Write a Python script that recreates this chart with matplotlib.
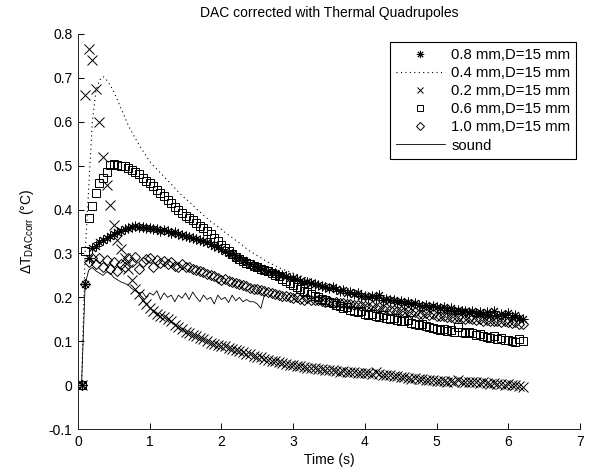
import numpy as np
import matplotlib
matplotlib.use("Agg")
import matplotlib.pyplot as plt

params = {
    "font.family": ["Liberation Sans", "DejaVu Sans"],
    "font.size": 10,
    "mathtext.fontset": "custom",
    "mathtext.rm": "Liberation Sans",
    "mathtext.it": "Liberation Sans:italic",
    "xtick.direction": "in",
    "ytick.direction": "in",
    "axes.linewidth": 0.7,
    "axes.edgecolor": "#222222",
}
plt.rcParams.update(params)

# sampling time (s), one sample every 0.05 s
time = np.round(np.arange(1, 125) * 0.05, 2)

d08 = [0, 0.23, 0.29, 0.312, 0.318, 0.325, 0.33, 0.335, 0.34, 0.345,
       0.348, 0.352, 0.355, 0.358, 0.36, 0.362, 0.36, 0.361, 0.358, 0.358,
       0.356, 0.355, 0.352, 0.353, 0.35, 0.347, 0.348, 0.345, 0.342, 0.34,
       0.338, 0.336, 0.334, 0.33, 0.328, 0.325, 0.322, 0.318, 0.314, 0.31,
       0.306, 0.302, 0.298, 0.293, 0.29, 0.285, 0.28, 0.276, 0.272, 0.27,
       0.266, 0.263, 0.26, 0.258, 0.255, 0.252, 0.25, 0.248, 0.245, 0.243,
       0.242, 0.238, 0.236, 0.235, 0.232, 0.23, 0.228, 0.225, 0.224, 0.222,
       0.224, 0.218, 0.215, 0.216, 0.21, 0.212, 0.207, 0.209, 0.204, 0.203,
       0.2, 0.202, 0.198, 0.205, 0.195, 0.197, 0.193, 0.195, 0.19, 0.192,
       0.188, 0.19, 0.185, 0.187, 0.183, 0.18, 0.182, 0.178, 0.18, 0.177,
       0.175, 0.178, 0.172, 0.176, 0.17, 0.172, 0.168, 0.17, 0.166, 0.168,
       0.165, 0.167, 0.163, 0.166, 0.16, 0.168, 0.158, 0.162, 0.16, 0.165,
       0.155, 0.16, 0.152, 0.15]

d04 = [0, 0.3, 0.45, 0.6, 0.67, 0.695, 0.703, 0.695, 0.683, 0.668,
       0.65, 0.63, 0.612, 0.592, 0.577, 0.562, 0.548, 0.535, 0.522, 0.51,
       0.5, 0.492, 0.483, 0.475, 0.466, 0.458, 0.449, 0.44, 0.432, 0.425,
       0.418, 0.41, 0.402, 0.395, 0.387, 0.38, 0.373, 0.367, 0.361, 0.355,
       0.348, 0.342, 0.336, 0.33, 0.324, 0.318, 0.311, 0.305, 0.3, 0.295,
       0.29, 0.285, 0.28, 0.276, 0.272, 0.268, 0.264, 0.261, 0.258, 0.255,
       0.252, 0.249, 0.246, 0.243, 0.241, 0.238, 0.236, 0.234, 0.232, 0.23,
       0.228, 0.226, 0.224, 0.222, 0.22, 0.218, 0.216, 0.214, 0.212, 0.21,
       0.208, 0.207, 0.205, 0.204, 0.202, 0.201, 0.199, 0.198, 0.196, 0.195,
       0.193, 0.192, 0.19, 0.189, 0.187, 0.186, 0.184, 0.183, 0.181, 0.18,
       0.179, 0.178, 0.177, 0.176, 0.175, 0.174, 0.173, 0.172, 0.171, 0.17,
       0.169, 0.168, 0.167, 0.166, 0.165, 0.164, 0.163, 0.162, 0.161, 0.16,
       0.159, 0.158, 0.156, 0.155]

d02 = [0, 0.66, 0.765, 0.74, 0.675, 0.6, 0.52, 0.455, 0.41, 0.365,
       0.33, 0.31, 0.29, 0.265, 0.24, 0.22, 0.208, 0.195, 0.185, 0.175,
       0.17, 0.162, 0.158, 0.155, 0.15, 0.145, 0.138, 0.132, 0.127, 0.122,
       0.118, 0.115, 0.112, 0.108, 0.104, 0.1, 0.097, 0.094, 0.092, 0.09,
       0.088, 0.085, 0.083, 0.08, 0.078, 0.075, 0.072, 0.07, 0.067, 0.065,
       0.063, 0.06, 0.058, 0.056, 0.054, 0.052, 0.05, 0.048, 0.046, 0.045,
       0.044, 0.043, 0.042, 0.04, 0.04, 0.038, 0.037, 0.036, 0.035, 0.035,
       0.034, 0.033, 0.031, 0.032, 0.03, 0.03, 0.029, 0.028, 0.028, 0.028,
       0.027, 0.026, 0.03, 0.025, 0.024, 0.022, 0.023, 0.02, 0.02, 0.019,
       0.018, 0.017, 0.015, 0.016, 0.014, 0.013, 0.012, 0.011, 0.012, 0.01,
       0.01, 0.009, 0.008, 0.01, 0.007, 0.012, 0.008, 0.007, 0.008, 0.006,
       0.006, 0.005, 0.006, 0.004, 0.003, 0.004, 0.002, 0.003, 0.001, 0.002,
       0.001, 0.0, -0.002, -0.005]

d06 = [0, 0.306, 0.38, 0.408, 0.438, 0.46, 0.473, 0.485, 0.502, 0.503,
       0.502, 0.5, 0.5, 0.495, 0.49, 0.485, 0.48, 0.473, 0.466, 0.46,
       0.453, 0.445, 0.438, 0.43, 0.422, 0.414, 0.406, 0.398, 0.392, 0.386,
       0.38, 0.376, 0.37, 0.363, 0.358, 0.352, 0.344, 0.336, 0.328, 0.32,
       0.312, 0.305, 0.298, 0.292, 0.288, 0.283, 0.279, 0.275, 0.272, 0.268,
       0.265, 0.262, 0.26, 0.255, 0.252, 0.248, 0.242, 0.238, 0.232, 0.228,
       0.224, 0.22, 0.215, 0.212, 0.208, 0.204, 0.2, 0.196, 0.193, 0.19,
       0.186, 0.183, 0.18, 0.176, 0.178, 0.172, 0.17, 0.166, 0.168, 0.163,
       0.16, 0.162, 0.158, 0.155, 0.16, 0.153, 0.15, 0.154, 0.148, 0.147,
       0.145, 0.148, 0.142, 0.14, 0.138, 0.14, 0.135, 0.133, 0.13, 0.128,
       0.125, 0.128, 0.124, 0.126, 0.12, 0.132, 0.122, 0.118, 0.12, 0.118,
       0.115, 0.117, 0.112, 0.11, 0.108, 0.112, 0.105, 0.108, 0.102, 0.103,
       0.1, 0.098, 0.104, 0.1]

d10 = [0, 0.23, 0.28, 0.29, 0.275, 0.29, 0.27, 0.285, 0.265, 0.28,
       0.26, 0.275, 0.268, 0.29, 0.28, 0.292, 0.265, 0.28, 0.288, 0.29,
       0.27, 0.285, 0.278, 0.282, 0.275, 0.28, 0.272, 0.27, 0.276, 0.268,
       0.27, 0.265, 0.262, 0.26, 0.257, 0.254, 0.25, 0.248, 0.244, 0.24,
       0.242, 0.237, 0.235, 0.232, 0.23, 0.228, 0.225, 0.222, 0.22, 0.218,
       0.217, 0.215, 0.212, 0.21, 0.208, 0.205, 0.204, 0.202, 0.2, 0.198,
       0.2, 0.197, 0.195, 0.198, 0.194, 0.193, 0.195, 0.191, 0.19, 0.192,
       0.188, 0.19, 0.186, 0.187, 0.184, 0.185, 0.182, 0.183, 0.18, 0.18,
       0.178, 0.18, 0.176, 0.177, 0.174, 0.175, 0.172, 0.171, 0.17, 0.168,
       0.167, 0.168, 0.165, 0.166, 0.163, 0.162, 0.164, 0.16, 0.161, 0.158,
       0.157, 0.158, 0.155, 0.156, 0.153, 0.155, 0.152, 0.15, 0.152, 0.15,
       0.149, 0.15, 0.147, 0.148, 0.146, 0.147, 0.145, 0.144, 0.145, 0.143,
       0.142, 0.143, 0.14, 0.14]

# sound reference, shorter record
sound = [0, 0.23, 0.262, 0.268, 0.26, 0.255, 0.25, 0.258, 0.255, 0.245,
         0.24, 0.235, 0.232, 0.228, 0.22, 0.215, 0.21, 0.212, 0.2, 0.21,
         0.205, 0.215, 0.195, 0.21, 0.2, 0.205, 0.19, 0.205, 0.198, 0.21,
         0.195, 0.212, 0.2, 0.19, 0.205, 0.195, 0.2, 0.185, 0.205, 0.195,
         0.2, 0.188, 0.205, 0.192, 0.2, 0.19, 0.195, 0.19, 0.19, 0.185,
         0.175, 0.205]

labels = ["0.8 mm,D=15 mm", "0.4 mm,D=15 mm", "0.2 mm,D=15 mm",
          "0.6 mm,D=15 mm", "1.0 mm,D=15 mm", "sound"]


def main():
    fig = plt.figure(figsize=(5.93, 4.70), dpi=100)
    ax = fig.add_axes([0.1315, 0.0872, 0.8465, 0.8405])

    mk = dict(ls="none", mfc="none", mec="k", mew=0.7)
    ax.plot(time, d08, marker=(8, 2, 0), ms=7, label=labels[0], **mk)
    ax.plot(time, d04, ls=(0, (1, 3)), color="k", lw=0.8, label=labels[1])
    ax.plot(time, d02, marker="x", ms=6.5, label=labels[2], **mk)
    ax.plot(time, d06, marker="s", ms=6, label=labels[3], **mk)
    ax.plot(time, d10, marker="D", ms=5.5, label=labels[4], **mk)
    ax.plot(time[:len(sound)], sound, "-", color="k", lw=0.6, label=labels[5])

    ax.set_xlim(0, 7)
    ax.set_ylim(-0.1, 0.8)
    ax.set_xticks(np.arange(0, 8))
    yt = np.round(np.arange(-0.1, 0.81, 0.1), 1)
    ax.set_yticks(yt)
    ax.set_yticklabels(["%g" % v for v in yt])
    ax.spines["top"].set_visible(False)
    ax.spines["right"].set_visible(False)
    ax.tick_params(length=4.5, width=0.7, pad=4)

    ax.set_title("DAC corrected with Thermal Quadrupoles", fontsize=10, pad=12)
    ax.set_xlabel("Time (s)", labelpad=3)
    ax.set_ylabel(r"$\Delta$T$_{\rm DACcorr}$ (°C)", labelpad=9)

    leg = ax.legend(loc="upper right", bbox_to_anchor=(0.993, 0.98),
                    fontsize=10.7, fancybox=False, framealpha=1,
                    edgecolor="k", handlelength=3.3, borderpad=0.4,
                    labelspacing=0.28, handletextpad=0.45, borderaxespad=0,
                    markerscale=0.75)
    leg.get_frame().set_linewidth(0.8)

    plt.savefig("out.png", dpi=100)


if __name__ == "__main__":
    main()
